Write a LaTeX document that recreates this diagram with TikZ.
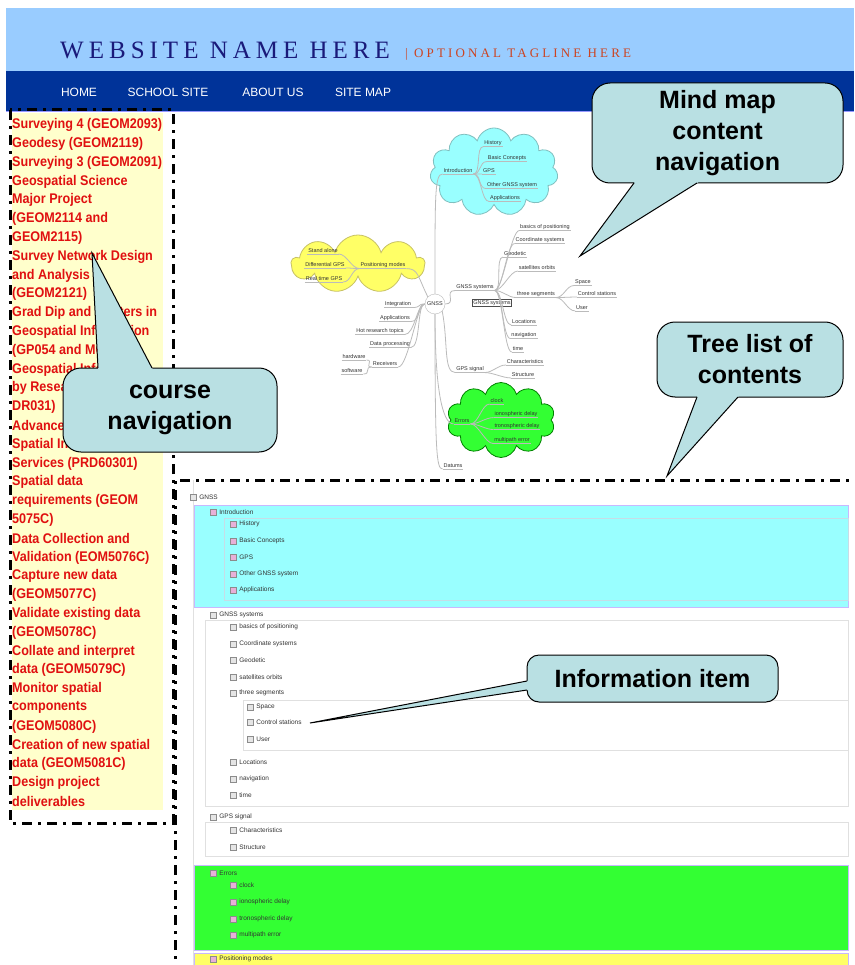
\documentclass[tikz,border=0pt]{standalone}
\usepackage{fontspec}
\setmainfont{Liberation Serif}
\setsansfont{Liberation Sans}
\newfontfamily\headfont[LetterSpace=20]{Liberation Serif}
\newfontfamily\tagfont[LetterSpace=24]{Liberation Serif}
\newfontfamily\sidefont[FakeStretch=0.9]{Liberation Sans}
\usetikzlibrary{shapes.symbols, calc, positioning}
\tikzset{>=latex}

\definecolor{headblue}{HTML}{99CCFF}
\definecolor{navblue}{HTML}{003399}
\definecolor{titleblue}{HTML}{1A1A7A}
\definecolor{tagred}{HTML}{CC4422}
\definecolor{sidered}{HTML}{E01010}
\definecolor{sideyellow}{HTML}{FFFFCC}
\definecolor{calloutbg}{HTML}{B9E0E3}
\definecolor{mmgray}{HTML}{BBBBBB}
\definecolor{mmtextc}{HTML}{333333}
\definecolor{introcyan}{HTML}{99FFFF}
\definecolor{errgreen}{HTML}{33FF33}
\definecolor{posyellow}{HTML}{FFFF66}
\definecolor{bandedge}{HTML}{C8B8FF}
\definecolor{iconpink}{HTML}{E8B0D8}

\tikzset{
  sidetext/.style={anchor=west, inner sep=0pt, text=sidered,
    font=\sidefont\bfseries\fontsize{14}{15}\selectfont},
  navtext/.style={text=white, font=\sffamily\fontsize{12}{13}\selectfont},
  mmtext/.style={inner sep=0.8pt, text=mmtextc, font=\sffamily\fontsize{5.5}{6}\selectfont},
  mmedge/.style={draw=mmgray, line width=0.8pt},
  treetext/.style={anchor=west, inner sep=0pt, text=black!80,
    font=\sffamily\fontsize{6.5}{7}\selectfont},
  treeicon/.style={draw=black!45, minimum size=6pt, inner sep=0pt},
  callout/.style={draw=black, line width=1pt, fill=calloutbg, rounded corners=18pt,
    align=center, font=\sffamily\bfseries\fontsize{25}{31}\selectfont},
  navbox/.style={line width=3pt, dash pattern=on 10pt off 6pt on 3pt off 6pt},
}

\begin{document}
\begin{tikzpicture}[x=1pt, y=-1pt]

  \useasboundingbox (0,0) rectangle (854,965);
  \fill[white] (0,0) rectangle (854,965);

  % header
  \fill[headblue] (6,8) rectangle (854,71);
  \fill[navblue] (6,71) rectangle (854,112);
  \draw[blue!40, line width=1pt] (6,112) -- (854,112);
  \node[anchor=west, inner sep=0pt, text=titleblue,
    font=\headfont\fontsize{25}{27}\selectfont] (sitename) at (60,50) {WEBSITE NAME HERE};
  \node[anchor=west, inner sep=0pt, text=tagred,
    font=\tagfont\fontsize{13}{14}\selectfont] (tagline) at (405,54) {| OPTIONAL TAGLINE HERE};

  \foreach \x/\t in {79/HOME, 168/SCHOOL SITE, 273/ABOUT US, 363/SITE MAP}
    \node[navtext] (nav\x) at (\x,92) {\t};

  % course list
  \fill[sideyellow] (12,113) rectangle (163,810);
  \foreach \t [count=\i] in {{Surveying 4 (GEOM2093)}, {Geodesy (GEOM2119)},
      {Surveying 3 (GEOM2091)}, {Geospatial Science}, {Major Project},
      {(GEOM2114 and}, {GEOM2115)}, {Survey Network Design}, {and Analysis},
      {(GEOM2121)}, {Grad Dip and Masters in}, {Geospatial Information},
      {(GP054 and MC054)}, {Geospatial Information}, {by Research (GEOM},
      {DR031)}, {Advanced}, {Spatial Information}, {Services (PRD60301)},
      {Spatial data}, {requirements (GEOM}, {5075C)}, {Data Collection and},
      {Validation (EOM5076C)}, {Capture new data}, {(GEOM5077C)},
      {Validate existing data}, {(GEOM5078C)}, {Collate and interpret},
      {data (GEOM5079C)}, {Monitor spatial}, {components}, {(GEOM5080C)},
      {Creation of new spatial}, {data (GEOM5081C)}, {Design project},
      {deliverables}}
    \node[sidetext] (course\i) at (12,{106.2+18.8*\i}) {\t};

  % mind map
  \node[cloud, cloud puffs=11, aspect=1.5, draw=teal!50, line width=0.8pt, fill=introcyan,
    minimum width=128pt, minimum height=88pt] (introcloud) at (494,172) {};
  \node[cloud, cloud puffs=9, aspect=2.3, draw=olive!50, line width=0.8pt, fill=posyellow,
    minimum width=133pt, minimum height=58pt] (poscloud) at (358,264) {};
  \node[cloud, cloud puffs=10, aspect=1.4, draw=green!50!black, line width=0.8pt, fill=errgreen,
    minimum width=108pt, minimum height=75pt] (errcloud) at (501,420) {};

  \node[mmtext, circle, draw=mmgray, fill=white, minimum size=20pt, inner sep=0pt] (gnss) at (435,304) {GNSS};

  \foreach \n/\x/\y/\t in {intro/458/171/Introduction, hist/493/143/History,
      basic/507/158/Basic Concepts, gps/489/171/GPS, other/512/185/Other GNSS system,
      appl/505/198/Applications, posm/383/265/Positioning modes, stand/323/251/Stand alone,
      diff/325/265/Differential GPS, rtgps/324/279/Real time GPS, gsys/475/287/GNSS systems,
      basicp/545/227/basics of positioning, coord/540/240/Coordinate systems,
      geod/515/254/Geodetic, sat/537/268/satellites orbits, three/536/294/three segments,
      space/583/282/Space, ctrl/597/294/Control stations, user/582/308/User,
      loc/524/322/Locations, nav/524/335/navigation, time/518/349/time,
      integ/398/304/Integration, appl2/395/318/Applications, hot/380/331/Hot research topics,
      dproc/390/344/Data processing, recv/385/364/Receivers, hw/354/357/hardware,
      sw/352/371/software, gsig/470/369/GPS signal, char/525/362/Characteristics,
      struc/523/375/Structure, err/462/421/Errors, clock/497/401/clock,
      iono/516/414/ionospheric delay, trop/517/426/tronospheric delay,
      multi/512/440/multipath error, dat/453/466/Datums}
    \node[mmtext] (\n) at (\x,\y) {\t};

  \node[mmtext, draw=black!70, fill=white, line width=0.6pt] (gsyscopy) at (492,303) {GNSS systems};

  \foreach \n in {intro, hist, basic, gps, other, appl, posm, stand, diff, rtgps, gsys,
      basicp, coord, geod, sat, three, space, ctrl, user, loc, nav, time, integ, appl2,
      hot, dproc, recv, hw, sw, gsig, char, struc, err, clock, iono, trop, multi, dat}
    \draw[mmedge] (\n.south west) -- (\n.south east);

  % right hand branches
  \foreach \p/\c in {intro/hist, intro/basic, intro/gps, intro/other, intro/appl,
      gsys/basicp, gsys/coord, gsys/geod, gsys/sat, gsys/three, gsys/loc, gsys/nav,
      gsys/time, three/space, three/ctrl, three/user, gsig/char, gsig/struc,
      err/clock, err/iono, err/trop, err/multi}
    \draw[mmedge] (\p.south east) .. controls +(8,0) and +(-8,0) .. (\c.south west);

  % left hand branches
  \foreach \p/\c in {posm/stand, posm/diff, posm/rtgps, recv/hw, recv/sw}
    \draw[mmedge] (\p.south west) .. controls +(-8,0) and +(8,0) .. (\c.south east);

  \foreach \c in {integ, appl2, hot, dproc, recv}
    \draw[mmedge] (gnss.west) .. controls +(-8,0) and +(10,0) .. (\c.south east);

  \draw[mmedge] (gnss.north) .. controls +(0,-100) and +(-8,0) .. (intro.south west);
  \draw[mmedge] (gnss.north west) .. controls +(-10,-20) and +(12,0) .. (posm.south east);
  \draw[mmedge] (gnss.east) .. controls +(12,0) and +(-12,0) .. (gsys.south west);
  \draw[mmedge] (gnss.south east) .. controls +(6,30) and +(-12,0) .. (gsig.south west);
  \draw[mmedge] (gnss.south) .. controls +(0,70) and +(-12,0) .. (err.south west);
  \draw[mmedge] (gnss.south) .. controls +(0,140) and +(-6,0) .. (dat.south west);

  % tree list
  \fill[introcyan] (194,505) rectangle (848,607);
  \draw[bandedge, line width=1pt] (194,505) rectangle (848,607);
  \draw[cyan!60!black!25] (224,518) rectangle (848,600);
  \draw[black!12] (193,480) -- (193,965);
  \draw[black!12] (205,620) rectangle (848,806);
  \draw[black!12] (243,700) rectangle (848,750);
  \draw[black!12] (205,822) rectangle (848,856);
  \fill[errgreen] (194,865) rectangle (848,950);
  \draw[bandedge, line width=1pt] (194,865) rectangle (848,950);
  \fill[posyellow] (194,953) rectangle (848,970);
  \draw[bandedge, line width=1pt] (194,953) rectangle (848,970);

  \foreach \x/\y/\t/\c [count=\i] in {193/497/GNSS/black!10,
      213/512/Introduction/iconpink, 233/524/History/iconpink,
      233/541/Basic Concepts/iconpink, 233/557/GPS/iconpink,
      233/574/Other GNSS system/iconpink, 233/590/Applications/iconpink,
      213/615/GNSS systems/black!10, 233/627/basics of positioning/black!10,
      233/644/Coordinate systems/black!10, 233/660/Geodetic/black!10,
      233/677/satellites orbits/black!10, 233/693/three segments/black!10,
      250/707/Space/black!10, 250/722/Control stations/black!10, 250/739/User/black!10,
      233/762/Locations/black!10, 233/779/navigation/black!10, 233/795/time/black!10,
      213/817/GPS signal/black!10, 233/830/Characteristics/black!10,
      233/847/Structure/black!10, 213/873/Errors/iconpink, 233/885/clock/iconpink,
      233/902/ionospheric delay/iconpink, 233/919/tronospheric delay/iconpink,
      233/935/multipath error/iconpink, 213/959/Positioning modes/iconpink} {
    \node[treeicon, fill=\c] (ti\i) at (\x,\y) {};
    \node[treetext, right=3pt of ti\i] (tt\i) {\t};
  }

  % dash-dot frames
  \draw[navbox] (10,110) rectangle (173,823);
  \draw[navbox] (175,975) -- (175,480) -- (860,480);

  % callouts
  \node[callout, minimum width=251pt, minimum height=100pt] (mmcall) at (717.5,133) {Mind map\\content\\navigation};
  \coordinate (mmtip) at (580,256);
  \coordinate (mmb1) at (634,183);
  \coordinate (mmb2) at (697,183);
  \fill[calloutbg] (mmtip) -- ($(mmtip)!1.06!(mmb1)$) -- ($(mmtip)!1.06!(mmb2)$) -- cycle;
  \draw[line width=1pt] (mmb1) -- (mmtip) -- (mmb2);

  \node[callout, minimum width=186pt, minimum height=75pt] (treecall) at (750,359.5) {Tree list of\\contents};
  \coordinate (treetip) at (667,476);
  \coordinate (treeb1) at (697,397);
  \coordinate (treeb2) at (738,397);
  \fill[calloutbg] (treetip) -- ($(treetip)!1.06!(treeb1)$) -- ($(treetip)!1.06!(treeb2)$) -- cycle;
  \draw[line width=1pt] (treeb1) -- (treetip) -- (treeb2);

  \node[callout, minimum width=214pt, minimum height=84pt] (coursecall) at (170,410) {course\\navigation};
  \coordinate (coursetip) at (92,253);
  \coordinate (courseb1) at (98,368);
  \coordinate (courseb2) at (152,368);
  \fill[calloutbg] (coursetip) -- ($(coursetip)!1.04!(courseb1)$) -- ($(coursetip)!1.04!(courseb2)$) -- cycle;
  \draw[line width=1pt] (courseb1) -- (coursetip) -- (courseb2);

  \node[callout, rounded corners=12pt, minimum width=251pt, minimum height=47pt] (infocall) at (652.5,678.5) {Information item};
  \coordinate (infotip) at (310,723);
  \coordinate (infob1) at (527,681);
  \coordinate (infob2) at (527,690);
  \fill[calloutbg] (infotip) -- ($(infotip)!1.02!(infob1)$) -- ($(infotip)!1.02!(infob2)$) -- cycle;
  \draw[line width=1pt] (infob1) -- (infotip) -- (infob2);

\end{tikzpicture}
\end{document}
